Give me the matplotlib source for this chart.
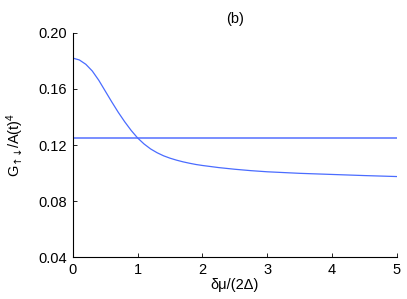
"""Panel (b): normalised G_updown against delta mu / (2 Delta)."""

import matplotlib

matplotlib.use("Agg")
import matplotlib.pyplot as plt

# values
dmu = [0.0, 0.1, 0.2, 0.3, 0.4, 0.5, 0.6, 0.7, 0.8, 0.9, 1.0,
       1.1, 1.2, 1.3, 1.4, 1.5, 1.6, 1.7, 1.8, 1.9, 2.0,
       2.25, 2.5, 2.75, 3.0, 3.5, 4.0, 4.5, 5.0]
g_curve = [0.1820, 0.1807, 0.1776, 0.1728, 0.1662, 0.1585, 0.1508, 0.1434,
           0.1366, 0.1304, 0.1250, 0.1207, 0.1172, 0.1145, 0.1123, 0.1106,
           0.1092, 0.1080, 0.1070, 0.1061, 0.1054, 0.1039, 0.1027, 0.1017,
           0.1009, 0.0998, 0.0990, 0.0982, 0.0975]
flat_x = [0.0, 5.0]
flat_y = [0.125, 0.125]

xticks = [0, 1, 2, 3, 4, 5]
yticks = [0.04, 0.08, 0.12, 0.16, 0.20]
ytick_labels = ["0.04", "0.08", "0.12", "0.16", "0.20"]

plt.rcParams["font.family"] = ["Liberation Sans", "DejaVu Sans"]
plt.rcParams["mathtext.fontset"] = "custom"
plt.rcParams["mathtext.rm"] = "Liberation Sans"
plt.rcParams["mathtext.it"] = "Liberation Sans:italic"
plt.rcParams["mathtext.sf"] = "DejaVu Sans"
plt.rcParams["font.size"] = 10.5

fig = plt.figure(figsize=(4.07, 2.99), dpi=100)
ax = fig.add_axes([0.179, 0.140, 0.796, 0.750])

ax.plot(flat_x, flat_y, color="#6e86ff", linewidth=1.3)
ax.plot(dmu, g_curve, color="#4a6cff", linewidth=0.9)

ax.set_xlim(0, 5)
ax.set_ylim(0.04, 0.20)
ax.set_xticks(xticks)
ax.set_yticks(yticks)
ax.set_yticklabels(ytick_labels)
ax.tick_params(direction="in", length=3, width=0.6, pad=4)
for side in ("top", "right"):
    ax.spines[side].set_visible(False)
for side in ("left", "bottom"):
    ax.spines[side].set_linewidth(0.8)

ax.set_title("(b)", fontsize=10.5, pad=7)
ax.set_xlabel("δμ/(2Δ)", labelpad=1)
ax.set_ylabel(r"G$_{\mathsf{↑↓}}$/A(t)$^4$", labelpad=9)

fig.savefig("out.png", dpi=100)
